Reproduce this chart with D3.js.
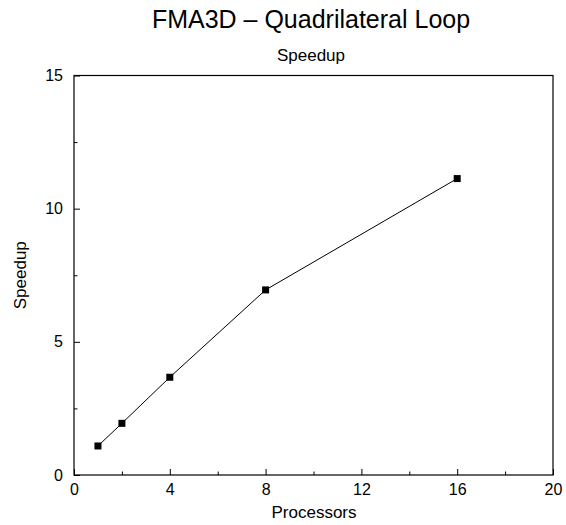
<!DOCTYPE html>
<html><head><meta charset="utf-8">
<script src="https://cdn.jsdelivr.net/npm/d3@7"></script>
<style>body{margin:0;background:#fff}svg{font-family:"Liberation Sans",Arial,sans-serif}</style>
</head><body>
<svg id="c" width="566" height="525"></svg>
<script>
const processors = [1, 2, 4, 8, 16];
const speedup = [1.09, 1.94, 3.67, 6.95, 11.13];
const xTickLabels = [0, 4, 8, 12, 16, 20];
const yTickLabels = [0, 5, 10, 15];
const xMinorTicks = [2, 6, 10, 14, 18];
const yMinorTicks = [2.5, 7.5, 12.5];

const svg = d3.select("#c");
const L = 74, R = 553, T = 75.5, B = 475;
const x = d3.scaleLinear().domain([0, 20]).range([L, R]);
const y = d3.scaleLinear().domain([0, 15]).range([B, T]);

svg.append("rect").attr("x", L).attr("y", T).attr("width", R - L).attr("height", B - T)
  .attr("fill", "none").attr("stroke", "#000").attr("stroke-width", 1.2);

const xAxis = svg.append("g").attr("transform", `translate(0,${B})`)
  .call(d3.axisBottom(x).tickValues(xTickLabels).tickSizeInner(-6).tickSizeOuter(0).tickPadding(9));
const yAxis = svg.append("g").attr("transform", `translate(${L},0)`)
  .call(d3.axisLeft(y).tickValues(yTickLabels).tickSizeInner(-6).tickSizeOuter(0).tickPadding(11));
[xAxis, yAxis].forEach(a => {
  a.select(".domain").remove();
  a.selectAll("text").attr("font-size", 16).attr("font-family", "Liberation Sans, Arial, sans-serif").attr("fill", "#000");
});
svg.append("g").attr("transform", `translate(0,${B})`)
  .call(d3.axisBottom(x).tickValues(xMinorTicks).tickSizeInner(-3.5).tickSizeOuter(0).tickFormat(""))
  .select(".domain").remove();
svg.append("g").attr("transform", `translate(${L},0)`)
  .call(d3.axisLeft(y).tickValues(yMinorTicks).tickSizeInner(-3.5).tickSizeOuter(0).tickFormat(""))
  .select(".domain").remove();

const pts = processors.map((p, i) => [p, speedup[i]]);
svg.append("path").datum(pts)
  .attr("d", d3.line().x(d => x(d[0])).y(d => y(d[1])))
  .attr("fill", "none").attr("stroke", "#000").attr("stroke-width", 1);
svg.selectAll("rect.m").data(pts).join("rect").attr("class", "m")
  .attr("x", d => x(d[0]) - 3.5).attr("y", d => y(d[1]) - 3.5)
  .attr("width", 7).attr("height", 7).attr("fill", "#000");

svg.append("text").attr("x", 311).attr("y", 28).attr("text-anchor", "middle")
  .attr("font-size", 25).text("FMA3D \u2013 Quadrilateral Loop");
svg.append("text").attr("x", 311).attr("y", 61).attr("text-anchor", "middle")
  .attr("font-size", 17).text("Speedup");
svg.append("text").attr("x", 314).attr("y", 518).attr("text-anchor", "middle")
  .attr("font-size", 17).text("Processors");
svg.append("text").attr("transform", `translate(26,${(T + B) / 2}) rotate(-90)`).attr("text-anchor", "middle")
  .attr("font-size", 17).text("Speedup");
</script>
</body></html>
